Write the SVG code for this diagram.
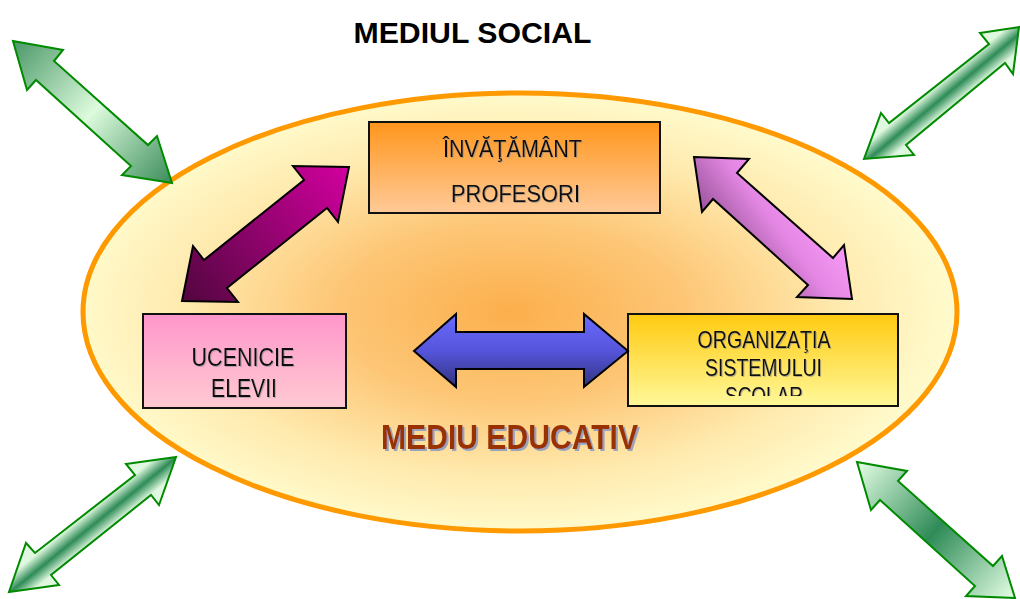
<svg xmlns="http://www.w3.org/2000/svg" width="1020" height="599" viewBox="0 0 1020 599">
<style>
.box{stroke:#111;stroke-width:2}
.bt{font-family:"Liberation Sans",Arial,sans-serif;font-size:23px;fill:#111;text-anchor:middle}
.arr{stroke:#000;stroke-width:2;stroke-linejoin:miter}
.garr{stroke:#008a00;stroke-width:2;stroke-linejoin:miter}
</style>
<defs>
<radialGradient id="gEll" cx="0.49" cy="0.5" r="0.5">
<stop offset="0" stop-color="#FCAF4C"/>
<stop offset="0.4" stop-color="#FDC676"/>
<stop offset="0.75" stop-color="#FFEAAE"/>
<stop offset="1" stop-color="#FFFACB"/>
</radialGradient>
<linearGradient id="gTop" x1="0" y1="0" x2="0" y2="1">
<stop offset="0" stop-color="#FF961C"/>
<stop offset="1" stop-color="#FFCA98"/>
</linearGradient>
<linearGradient id="gLeft" x1="0" y1="0" x2="0" y2="1">
<stop offset="0" stop-color="#FF96CB"/>
<stop offset="1" stop-color="#FFCAD2"/>
</linearGradient>
<linearGradient id="gRight" x1="0" y1="0" x2="0" y2="1">
<stop offset="0" stop-color="#FFCA10"/>
<stop offset="1" stop-color="#FFF89A"/>
</linearGradient>
<linearGradient id="gPurple" gradientUnits="userSpaceOnUse" x1="182" y1="301" x2="349" y2="167">
<stop offset="0" stop-color="#52063F"/>
<stop offset="1" stop-color="#D2009E"/>
</linearGradient>
<linearGradient id="gPink" gradientUnits="userSpaceOnUse" x1="720" y1="250" x2="800" y2="190">
<stop offset="0" stop-color="#8E4C8E"/>
<stop offset="0.6" stop-color="#E487E4"/>
<stop offset="1" stop-color="#F59AF5"/>
</linearGradient>
<linearGradient id="gBlue" x1="0" y1="0" x2="0" y2="1">
<stop offset="0" stop-color="#6A6AFF"/>
<stop offset="0.5" stop-color="#5555DC"/>
<stop offset="1" stop-color="#33337F"/>
</linearGradient>
<linearGradient id="gGreenTL" gradientUnits="userSpaceOnUse" x1="13" y1="41" x2="172" y2="183">
<stop offset="0" stop-color="#4A9868"/>
<stop offset="0.5" stop-color="#DDFBDD"/>
<stop offset="1" stop-color="#3A8C5A"/>
</linearGradient>
<linearGradient id="gGreenBR" gradientUnits="userSpaceOnUse" x1="857" y1="462" x2="1015" y2="598">
<stop offset="0" stop-color="#E6FFE6"/>
<stop offset="0.5" stop-color="#2E8B57"/>
<stop offset="1" stop-color="#E6FFE6"/>
</linearGradient>
<linearGradient id="gGreenTR" gradientUnits="userSpaceOnUse" x1="938.7" y1="84" x2="955.3" y2="104">
<stop offset="0" stop-color="#DFF8DF"/>
<stop offset="0.5" stop-color="#2E8B57"/>
<stop offset="1" stop-color="#DFF8DF"/>
</linearGradient>
<linearGradient id="gGreenBL" gradientUnits="userSpaceOnUse" x1="84.8" y1="514.9" x2="101.2" y2="535.1">
<stop offset="0" stop-color="#DFF8DF"/>
<stop offset="0.5" stop-color="#2E8B57"/>
<stop offset="1" stop-color="#DFF8DF"/>
</linearGradient>
<filter id="shTxt" x="-5%" y="-20%" width="110%" height="150%">
<feDropShadow dx="1" dy="1" stdDeviation="0.3" flood-color="#8a8a8a" flood-opacity="0.6"/>
</filter>
<filter id="shBig" x="-5%" y="-20%" width="110%" height="150%">
<feDropShadow dx="2" dy="2" stdDeviation="0.5" flood-color="#9AA3BD"/>
</filter>
<clipPath id="clipR"><rect x="628" y="314" width="270" height="82"/></clipPath>
</defs>

<rect width="1020" height="599" fill="#fff"/>

<g id="mediu-social">
<text x="472.5" y="43" font-family="'Liberation Sans',Arial,sans-serif" font-weight="bold" font-size="29" text-anchor="middle" textLength="238" lengthAdjust="spacingAndGlyphs" fill="#000">MEDIUL SOCIAL</text>
</g>

<g id="mediu-educativ">
<ellipse cx="520" cy="312" rx="437" ry="219" fill="url(#gEll)" stroke="#FF9900" stroke-width="5"/>
<text x="509.5" y="449" font-family="'Liberation Sans',Arial,sans-serif" font-weight="bold" font-size="35" text-anchor="middle" textLength="257" lengthAdjust="spacingAndGlyphs" fill="#993300" filter="url(#shBig)">MEDIU EDUCATIV</text>
</g>

<g id="invatamant">
<rect class="box" x="369" y="122" width="291" height="91" fill="url(#gTop)"/>
<g filter="url(#shTxt)">
<text class="bt" x="512.5" y="157" textLength="139" lengthAdjust="spacingAndGlyphs">ÎNVĂŢĂMÂNT</text>
<text class="bt" x="515.5" y="202" textLength="129" lengthAdjust="spacingAndGlyphs">PROFESORI</text>
</g>
</g>

<g id="ucenicie">
<rect class="box" x="143" y="314" width="203" height="94" fill="url(#gLeft)"/>
<g filter="url(#shTxt)">
<text class="bt" x="243" y="366" style="font-size:26px" textLength="103" lengthAdjust="spacingAndGlyphs">UCENICIE</text>
<text class="bt" x="244" y="397" style="font-size:26px" textLength="66" lengthAdjust="spacingAndGlyphs">ELEVII</text>
</g>
</g>

<g id="organizatia">
<rect class="box" x="628" y="314" width="270" height="92" fill="url(#gRight)"/>
<g filter="url(#shTxt)" clip-path="url(#clipR)">
<text class="bt" x="764" y="348" style="font-size:24px" textLength="133" lengthAdjust="spacingAndGlyphs">ORGANIZAŢIA</text>
<text class="bt" x="763.5" y="376" style="font-size:24px" textLength="117" lengthAdjust="spacingAndGlyphs">SISTEMULUI</text>
<text class="bt" x="764" y="404" style="font-size:24px" textLength="78" lengthAdjust="spacingAndGlyphs">SCOLAR</text>
</g>
</g>

<g id="connectors">
<polygon class="arr" fill="url(#gPurple)" points="349,167 293,166 304,180 204,260 193,246 182,301 238,302 227,288 327,208 338,222"/>
<polygon class="arr" fill="url(#gPink)" points="694,157 749,159 737,173 833,258 844,245 852,299 797,297 808,285 713,199 702,212"/>
<polygon class="arr" fill="url(#gBlue)" points="414,351 456,314 456,332 584,332 584,314 628,351 584,387 584,369 456,369 456,387"/>
<polygon class="garr" fill="url(#gGreenTL)" points="13,41 63,50 54,61 148,145 157,136 172,183 122,175 131,166 36,80 27,90"/>
<polygon class="garr" fill="url(#gGreenTR)" points="1019,27 980,33 989,44 889,123 881,113 864,159 914,155 906,145 1005,63 1013,74"/>
<polygon class="garr" fill="url(#gGreenBL)" points="176,457 126,464 135,475 35,553 26,543 9,592 59,585 51,575 151,495 159,505"/>
<polygon class="garr" fill="url(#gGreenBR)" points="857,462 907,471 898,481 993,566 1002,556 1015,598 966,596 975,586 880,500 871,510"/>
</g>
</svg>
